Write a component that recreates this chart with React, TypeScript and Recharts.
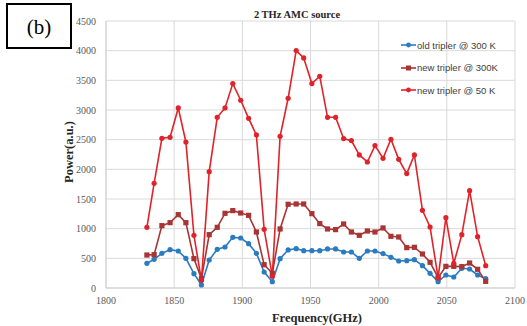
import React from 'react';
import { LineChart, Line, XAxis, YAxis, CartesianGrid, Legend, Label } from 'recharts';

const frequencies = [1830, 1835.3, 1841, 1847, 1853, 1858.6, 1864.5, 1870, 1875.7, 1881.6, 1887.3, 1893, 1898.8, 1904.6, 1910.3, 1916, 1922, 1927.7, 1933.6, 1939.5, 1945, 1951, 1956.8, 1962.5, 1968.4, 1974.3, 1980, 1985.8, 1991.7, 1997.3, 2003.2, 2009, 2014.7, 2020.6, 2026.2, 2032.1, 2037.7, 2043.6, 2049.3, 2055.1, 2061, 2066.7, 2072.6, 2078.5];

const oldTripler300K = [416, 483, 584, 646, 624, 500, 242, 51, 472, 652, 691, 854, 843, 747, 584, 270, 107, 495, 641, 663, 629, 629, 629, 658, 658, 607, 607, 500, 624, 624, 579, 517, 455, 461, 478, 377, 247, 107, 219, 185, 332, 320, 219, 157];

const newTripler300K = [556, 562, 1051, 1101, 1236, 1101, 495, 157, 899, 1023, 1259, 1304, 1264, 1225, 944, 393, 247, 995, 1411, 1416, 1416, 1253, 1085, 995, 984, 1079, 944, 888, 961, 944, 1012, 871, 860, 680, 686, 573, 433, 174, 365, 365, 360, 421, 315, 112];

const newTripler50K = [1023, 1765, 2523, 2540, 3035, 2461, 888, 130, 1961, 2877, 3035, 3445, 3164, 2860, 2580, 989, 200, 2557, 3198, 4001, 3878, 3445, 3569, 2877, 2877, 2518, 2484, 2242, 2124, 2400, 2186, 2507, 2169, 1928, 2242, 1309, 1028, 174, 1186, 416, 899, 1641, 865, 377];

const xTicks = [1800, 1850, 1900, 1950, 2000, 2050, 2100];
const yTicks = [0, 500, 1000, 1500, 2000, 2500, 3000, 3500, 4000, 4500];

const seriesNames = ['old tripler @ 300 K', 'new tripler @ 300K', 'new tripler @ 50 K'];
const seriesKeys = ['old', 'new300', 'new50'];
const seriesColors = ['#2b7bc0', '#a83434', '#e0232a'];
const seriesShapes = ['circle', 'square', 'circle'];

const data = frequencies.map((f, i) => ({
  f,
  old: oldTripler300K[i],
  new300: newTripler300K[i],
  new50: newTripler50K[i],
}));

const makeDot = (color: string, shape: string) => (props: any) => {
  const { cx, cy, index } = props;
  if (cx == null || cy == null) return <g key={index} />;
  if (shape === 'square') {
    return <rect key={index} x={cx - 2.6} y={cy - 2.6} width={5.2} height={5.2} fill={color} />;
  }
  return <circle key={index} cx={cx} cy={cy} r={2.6} fill={color} />;
};

const tickStyle = { fontFamily: '"Liberation Serif", serif', fontSize: 10, fill: '#595959' };

const renderLegend = () => (
  <div style={{ fontFamily: '"Liberation Sans", Arial, sans-serif', fontSize: 9.5, color: '#404040' }}>
    {seriesNames.map((name, i) => (
      <div key={name} style={{ display: 'flex', alignItems: 'center', height: 22.5, whiteSpace: 'nowrap' }}>
        <svg width={15} height={8} style={{ marginRight: 1 }}>
          <line x1={0} y1={4} x2={15} y2={4} stroke={seriesColors[i]} strokeWidth={1.6} />
          {seriesShapes[i] === 'square' ? (
            <rect x={5} y={1.5} width={5} height={5} fill={seriesColors[i]} />
          ) : (
            <circle cx={7.5} cy={4} r={2.4} fill={seriesColors[i]} />
          )}
        </svg>
        <span>{name}</span>
      </div>
    ))}
  </div>
);

export default function App() {
  return (
    <div style={{ position: 'absolute', left: 0, top: 0, width: 527, height: 326, background: '#fff' }}>
      <LineChart width={527} height={326} data={data} margin={{ top: 21, right: 12, bottom: 0, left: 0 }}>
        <CartesianGrid stroke="#d9d9d9" strokeWidth={1} />
        <XAxis
          dataKey="f"
          type="number"
          domain={[1800, 2100]}
          ticks={xTicks}
          height={38}
          tickSize={0}
          tickMargin={9}
          axisLine={{ stroke: '#d0d0d0' }}
          tickLine={false}
          tick={tickStyle}
          interval={0}
        >
          <Label
            content={() => (
              <text x={317} y={322} textAnchor="middle" style={{ fontFamily: '"Liberation Serif", serif', fontSize: 12.5, fontWeight: 'bold', fill: '#262626' }}>
                Frequency(GHz)
              </text>
            )}
          />
        </XAxis>
        <YAxis
          type="number"
          domain={[0, 4500]}
          ticks={yTicks}
          width={106}
          tickSize={0}
          tickMargin={10}
          axisLine={{ stroke: '#d0d0d0' }}
          tickLine={false}
          tick={tickStyle}
          interval={0}
        >
          <Label
            content={() => (
              <text x={69} y={152} textAnchor="middle" dominantBaseline="central" transform="rotate(-90 69 152)" style={{ fontFamily: '"Liberation Serif", serif', fontSize: 12.5, fontWeight: 'bold', fill: '#262626' }}>
                Power(a.u.)
              </text>
            )}
          />
        </YAxis>
        <Legend
          layout="vertical"
          align="center"
          verticalAlign="middle"
          content={renderLegend}
          wrapperStyle={{ left: 401, top: 34, width: 120, height: 70 }}
        />
        {seriesKeys.map((k, i) => (
          <Line
            key={k}
            dataKey={k}
            name={seriesNames[i]}
            stroke={seriesColors[i]}
            strokeWidth={1.6}
            dot={makeDot(seriesColors[i], seriesShapes[i])}
            activeDot={false}
            isAnimationActive={false}
          />
        ))}
      </LineChart>
      <div
        style={{
          position: 'absolute',
          left: 297,
          top: 9,
          transform: 'translateX(-50%)',
          fontFamily: '"Liberation Serif", serif',
          fontSize: 10.5,
          fontWeight: 'bold',
          color: '#262626',
          whiteSpace: 'nowrap',
        }}
      >
        2 THz AMC source
      </div>
      <div
        style={{
          position: 'absolute',
          left: 6,
          top: 3,
          width: 62,
          height: 40,
          border: '2px solid #000',
          display: 'flex',
          alignItems: 'center',
          justifyContent: 'center',
          fontFamily: '"Liberation Serif", serif',
          fontSize: 21,
          color: '#000',
          paddingTop: 2,
          boxSizing: 'content-box',
        }}
      >
        (b)
      </div>
    </div>
  );
}
